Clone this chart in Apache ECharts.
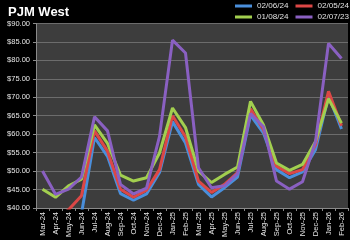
<!DOCTYPE html>
<html><head><meta charset="utf-8">
<script src="https://cdn.jsdelivr.net/npm/echarts@6/dist/echarts.min.js"></script>
<style>html,body{margin:0;padding:0;background:#000;}#c{width:350px;height:240px;}</style>
</head><body><div id="c"></div>
<script>
var categories = ["Mar-24","Apr-24","May-24","Jun-24","Jul-24","Aug-24","Sep-24","Oct-24","Nov-24","Dec-24","Jan-25","Feb-25","Mar-25","Apr-25","May-25","Jun-25","Jul-25","Aug-25","Sep-25","Oct-25","Nov-25","Dec-25","Jan-26","Feb-26"];
var s020624 = [36.0,35.0,36.0,38.5,59.1,54.0,43.9,42.1,43.8,49.6,63.4,57.6,46.4,43.0,45.5,48.4,65.2,60.3,50.4,48.2,49.8,55.8,70.4,61.4];
var s020524 = [37.0,37.0,39.5,43.3,60.9,55.4,45.1,42.9,44.8,50.4,65.0,59.3,47.3,44.2,46.4,49.6,66.9,61.2,51.3,49.3,50.4,57.1,71.6,62.3];
var s010824 = [45.1,42.9,46.0,47.8,62.5,57.5,48.9,47.3,48.2,54.9,67.1,61.8,50.0,46.9,49.1,51.1,68.9,62.5,52.2,50.2,51.8,58.0,69.6,63.0];
var s020723 = [50.0,43.7,45.1,48.4,64.7,60.9,46.4,43.8,45.4,59.4,85.5,82.0,50.9,45.5,46.0,49.3,65.6,62.0,47.3,45.1,47.1,58.0,84.6,80.5];
var seriesNames = ["02/06/24","02/05/24","01/08/24","02/07/23"];
var seriesColors = ["#4a8fdb","#dc4746","#a2cf4f","#8a60c2"];
var yMin = 40, yMax = 90, yStep = 5;

var chart = echarts.init(document.getElementById('c'), null, {renderer:'canvas'});
var data = [s020624, s020524, s010824, s020723];
var series = data.map(function(d,i){
  return {name: seriesNames[i], type:'line', data:d, symbol:'none', clip:true,
    lineStyle:{width:3, color:seriesColors[i]}, itemStyle:{color:seriesColors[i]}, z: 2+i};
});
var legTxt = {color:'#e0e0e0', fontSize:8.1, fontFamily:'Liberation Sans'};
chart.setOption({
  backgroundColor:'#000',
  animation:false,
  title:{text:'PJM West', left:3, top:1, textStyle:{color:'#fff', fontSize:13, fontWeight:'bold', fontFamily:'Liberation Sans'}},
  legend:[
    {data:[seriesNames[0],seriesNames[1]], right:1, top:2, padding:0, icon:'rect', itemWidth:17, itemHeight:3, itemGap:7, textStyle:legTxt},
    {data:[seriesNames[2],seriesNames[3]], right:1, top:13, padding:0, icon:'rect', itemWidth:17, itemHeight:3, itemGap:7, textStyle:legTxt}
  ],
  grid:{left:36, right:2, top:23.5, bottom:30.5, show:true, backgroundColor:'#3d3d3d', borderWidth:0},
  xAxis:{type:'category', data:categories, boundaryGap:true,
    axisLine:{lineStyle:{color:'#8a8a8a', width:1}},
    axisTick:{show:true, length:3, lineStyle:{color:'#8a8a8a'}},
    axisLabel:{rotate:90, color:'#e6e6e6', fontSize:7.5, fontFamily:'Liberation Sans', margin:4, interval:0}},
  yAxis:{type:'value', min:yMin, max:yMax, interval:yStep,
    axisLine:{show:true, lineStyle:{color:'#8a8a8a'}},
    axisTick:{show:true, length:3, lineStyle:{color:'#8a8a8a'}},
    splitLine:{lineStyle:{color:'#6c6c6c', width:1}},
    axisLabel:{color:'#e6e6e6', fontSize:7.5, fontFamily:'Liberation Sans', margin:6,
      formatter:function(v){return '$'+v.toFixed(2);}}},
  series:series
});
</script></body></html>
